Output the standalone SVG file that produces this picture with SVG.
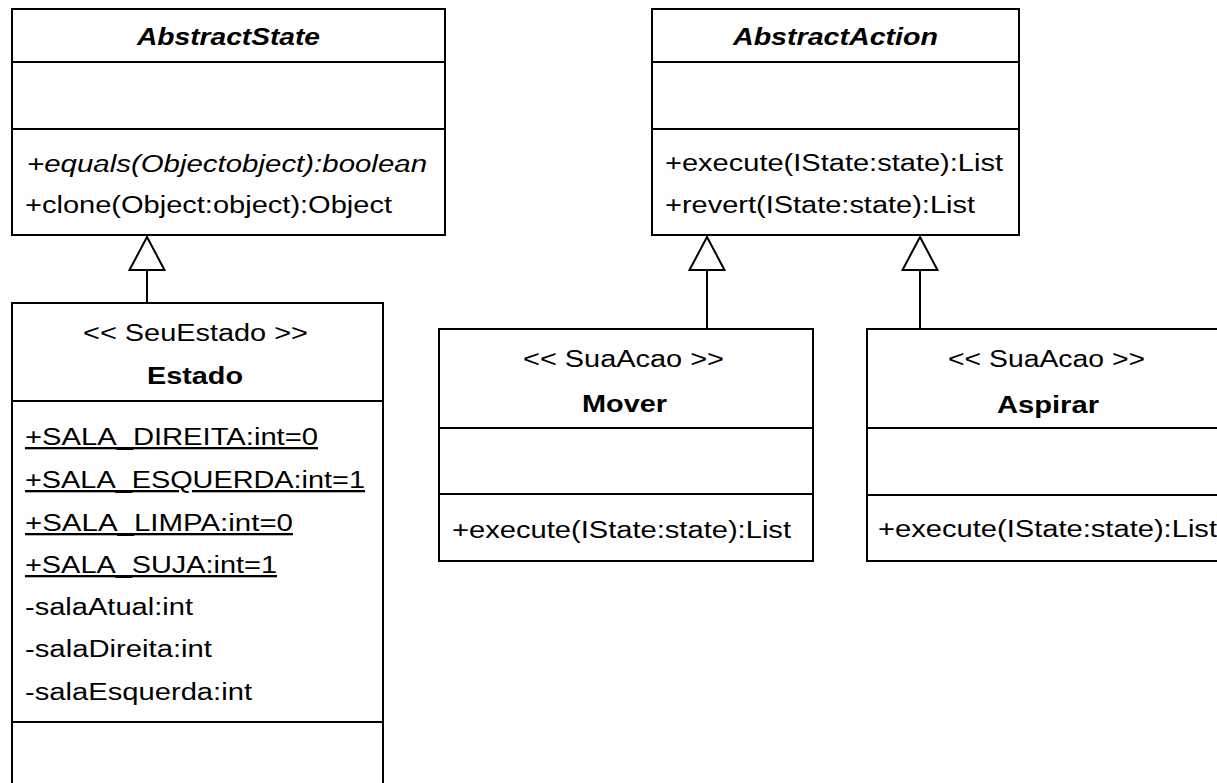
<svg xmlns="http://www.w3.org/2000/svg" width="1217" height="783" viewBox="0 0 1217 783">
  <style>
    .box { fill: #ffffff; stroke: #000000; stroke-width: 2; }
    .div { stroke: #000000; stroke-width: 2; }
    .edge { stroke: #000000; stroke-width: 2; fill: none; }
    .head { fill: #ffffff; stroke: #000000; stroke-width: 2; stroke-linejoin: miter; }
    text { font-family: "Liberation Sans", Arial, sans-serif; font-size: 23px; fill: #000000; }
    .title { font-weight: bold; }
    .abstract { font-weight: bold; font-style: italic; }
    .ital { font-style: italic; }
    .static { text-decoration: underline; }
  </style>
  <rect width="1217" height="783" fill="#ffffff"/>

  <!-- generalization connectors -->
  <g id="connectors">
    <line class="edge" x1="147" y1="270" x2="147" y2="303"/>
    <polygon class="head" points="147,237 129.5,270 164.5,270"/>
    <line class="edge" x1="707" y1="270" x2="707" y2="329"/>
    <polygon class="head" points="707,237 689.5,270 724.5,270"/>
    <line class="edge" x1="920" y1="270" x2="920" y2="329"/>
    <polygon class="head" points="920,237 902.5,270 937.5,270"/>
  </g>

  <g id="AbstractState">
    <rect class="box" x="12" y="9" width="433" height="226"/>
    <line class="div" x1="12" y1="62" x2="445" y2="62"/>
    <line class="div" x1="12" y1="129" x2="445" y2="129"/>
    <text class="abstract" x="137" y="45" textLength="183" lengthAdjust="spacingAndGlyphs">AbstractState</text>
    <text class="ital" x="27" y="172" textLength="400" lengthAdjust="spacingAndGlyphs">+equals(Objectobject):boolean</text>
    <text x="25" y="213" textLength="367" lengthAdjust="spacingAndGlyphs">+clone(Object:object):Object</text>
  </g>

  <g id="AbstractAction">
    <rect class="box" x="652" y="9" width="367" height="226"/>
    <line class="div" x1="652" y1="62" x2="1019" y2="62"/>
    <line class="div" x1="652" y1="129" x2="1019" y2="129"/>
    <text class="abstract" x="733" y="45" textLength="205" lengthAdjust="spacingAndGlyphs">AbstractAction</text>
    <text x="665" y="171" textLength="338" lengthAdjust="spacingAndGlyphs">+execute(IState:state):List</text>
    <text x="665" y="213" textLength="310" lengthAdjust="spacingAndGlyphs">+revert(IState:state):List</text>
  </g>

  <g id="Estado">
    <rect class="box" x="12" y="303" width="371" height="500"/>
    <line class="div" x1="12" y1="401" x2="383" y2="401"/>
    <line class="div" x1="12" y1="722" x2="383" y2="722"/>
    <text x="83" y="341" textLength="225" lengthAdjust="spacingAndGlyphs">&lt;&lt; SeuEstado &gt;&gt;</text>
    <text class="title" x="147" y="384" textLength="96" lengthAdjust="spacingAndGlyphs">Estado</text>
    <text class="static" x="25" y="445" textLength="293" lengthAdjust="spacingAndGlyphs">+SALA_DIREITA:int=0</text>
    <text class="static" x="25" y="488" textLength="340" lengthAdjust="spacingAndGlyphs">+SALA_ESQUERDA:int=1</text>
    <text class="static" x="25" y="531" textLength="268" lengthAdjust="spacingAndGlyphs">+SALA_LIMPA:int=0</text>
    <text class="static" x="25" y="573" textLength="252" lengthAdjust="spacingAndGlyphs">+SALA_SUJA:int=1</text>
    <text x="25" y="615" textLength="168" lengthAdjust="spacingAndGlyphs">-salaAtual:int</text>
    <text x="25" y="657" textLength="187" lengthAdjust="spacingAndGlyphs">-salaDireita:int</text>
    <text x="25" y="700" textLength="227" lengthAdjust="spacingAndGlyphs">-salaEsquerda:int</text>
  </g>

  <g id="Mover">
    <rect class="box" x="439" y="329" width="374" height="232"/>
    <line class="div" x1="439" y1="428" x2="813" y2="428"/>
    <line class="div" x1="439" y1="494" x2="813" y2="494"/>
    <text x="523" y="367" textLength="201" lengthAdjust="spacingAndGlyphs">&lt;&lt; SuaAcao &gt;&gt;</text>
    <text class="title" x="582" y="412" textLength="85" lengthAdjust="spacingAndGlyphs">Mover</text>
    <text x="452" y="538" textLength="339" lengthAdjust="spacingAndGlyphs">+execute(IState:state):List</text>
  </g>

  <g id="Aspirar">
    <rect class="box" x="867" y="329" width="374" height="232"/>
    <line class="div" x1="867" y1="428" x2="1241" y2="428"/>
    <line class="div" x1="867" y1="495" x2="1241" y2="495"/>
    <text x="948" y="367" textLength="197" lengthAdjust="spacingAndGlyphs">&lt;&lt; SuaAcao &gt;&gt;</text>
    <text class="title" x="997" y="413" textLength="102" lengthAdjust="spacingAndGlyphs">Aspirar</text>
    <text x="878" y="537" textLength="339" lengthAdjust="spacingAndGlyphs">+execute(IState:state):List</text>
  </g>
</svg>
